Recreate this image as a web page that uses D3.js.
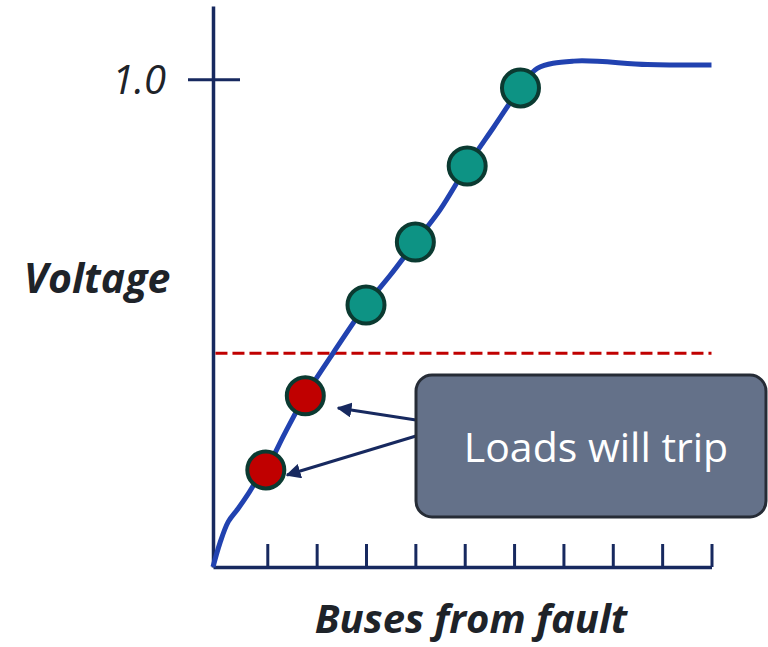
<!DOCTYPE html>
<html>
<head>
<meta charset="utf-8">
<script src="https://cdn.jsdelivr.net/npm/d3@7"></script>
<style>
  html, body { margin: 0; padding: 0; background: #fff; }
  svg text { font-family: "Open Sans", "Noto Sans", sans-serif; }
</style>
</head>
<body>
<svg id="chart" width="768" height="647"></svg>
<script>
// voltage profile (x = buses from fault, y = p.u.)
let curveX = [-0.1, 0.04, 0.21, 0.41, 0.62, 0.75, 0.97, 1.36, 1.77, 2.33, 3.0, 3.49, 4.0, 4.5, 5.05, 5.59, 6.13, 6.47, 7.21, 8.7, 10.0]
let curveY = [0, 0.049, 0.093, 0.12, 0.151, 0.172, 0.199, 0.275, 0.351, 0.438, 0.537, 0.598, 0.666, 0.732, 0.822, 0.902, 0.982, 1.022, 1.037, 1.03, 1.029]

let busX = [0.97, 1.77, 3.0, 4.0, 5.05, 6.13]
let busY = [0.199, 0.351, 0.537, 0.666, 0.822, 0.982]
let busTrips = [true, true, false, false, false, false]

let xTicks = [1, 2, 3, 4, 5, 6, 7, 8, 9, 10]
let yTicks = [1.0]
let tripLevel = 0.438

let svg = d3.select('#chart')
let navy = '#17295f'

let x = d3.scaleLinear().domain([-0.1, 10]).range([213, 711.5])
let y = d3.scaleLinear().domain([0, 1.15]).range([567, 6])

// axes
let xAxis = svg.append('g')
    .attr('transform', 'translate(0,' + y(0) + ')')
    .call(d3.axisBottom(x).tickValues(xTicks).tickSize(-23).tickSizeOuter(0).tickFormat(''))
xAxis.select('.domain').attr('stroke', navy).attr('stroke-width', 3.5)
xAxis.selectAll('.tick line').attr('stroke', navy).attr('stroke-width', 3)

let yAxis = svg.append('g')
    .attr('transform', 'translate(' + x(-0.1) + ',0)')
    .call(d3.axisLeft(y).tickValues(yTicks).tickSizeOuter(0).tickFormat(d3.format('.1f')))
yAxis.select('.domain').attr('stroke', navy).attr('stroke-width', 3.5)
yAxis.selectAll('.tick line').attr('stroke', navy).attr('stroke-width', 3)
    .attr('x1', 27).attr('x2', -25)
yAxis.selectAll('.tick text')
    .attr('x', -47).attr('dy', '0.35em')
    .attr('fill', '#1e2329')
    .style('font-size', '40px').style('font-style', 'italic')

// trip threshold
svg.append('line')
    .attr('x1', x(-0.05)).attr('x2', x(10))
    .attr('y1', y(tripLevel)).attr('y2', y(tripLevel))
    .attr('stroke', '#c00000').attr('stroke-width', 3)
    .attr('stroke-dasharray', '12,5')

// voltage curve
let line = d3.line()
    .x((d, i) => x(curveX[i]))
    .y((d, i) => y(curveY[i]))
    .curve(d3.curveCatmullRom.alpha(0.5))
svg.append('path')
    .datum(curveX)
    .attr('d', line)
    .attr('fill', 'none')
    .attr('stroke', '#2142b0')
    .attr('stroke-width', 5)
    .attr('stroke-linejoin', 'round')

// buses
svg.selectAll('circle.bus')
    .data(busX)
    .enter().append('circle')
    .attr('class', 'bus')
    .attr('cx', d => x(d))
    .attr('cy', (d, i) => y(busY[i]))
    .attr('r', 18.5)
    .attr('fill', (d, i) => busTrips[i] ? '#c00000' : '#0d9384')
    .attr('stroke', '#0b3a31')
    .attr('stroke-width', 4)

// callout
let defs = svg.append('defs')
defs.append('marker')
    .attr('id', 'arrow')
    .attr('viewBox', '0 0 10 10')
    .attr('refX', 9).attr('refY', 5)
    .attr('markerWidth', 5).attr('markerHeight', 5)
    .attr('markerUnits', 'strokeWidth')
    .attr('orient', 'auto')
    .append('path').attr('d', 'M0,0 L10,5 L0,10 z').attr('fill', navy)

let arrowFrom = [[416, 420], [416, 436]]
let arrowTo = [[338, 408], [287, 475]]
svg.selectAll('line.arrow')
    .data(arrowFrom)
    .enter().append('line')
    .attr('class', 'arrow')
    .attr('x1', d => d[0]).attr('y1', d => d[1])
    .attr('x2', (d, i) => arrowTo[i][0]).attr('y2', (d, i) => arrowTo[i][1])
    .attr('stroke', navy).attr('stroke-width', 3)
    .attr('marker-end', 'url(#arrow)')

svg.append('rect')
    .attr('x', 416).attr('y', 375)
    .attr('width', 350).attr('height', 142)
    .attr('rx', 16)
    .attr('fill', '#647189')
    .attr('stroke', '#262c36').attr('stroke-width', 3)
svg.append('text')
    .attr('x', 596).attr('y', 462)
    .attr('text-anchor', 'middle')
    .attr('fill', '#fff')
    .style('font-size', '41px')
    .text('Loads will trip')

// axis titles
svg.append('text')
    .attr('x', 97).attr('y', 293)
    .attr('text-anchor', 'middle')
    .attr('fill', '#1e2329')
    .style('font-size', '41px').style('font-weight', 'bold').style('font-style', 'italic')
    .text('Voltage')
svg.append('text')
    .attr('x', 471).attr('y', 633)
    .attr('text-anchor', 'middle')
    .attr('fill', '#1e2329')
    .style('font-size', '40px').style('font-weight', 'bold').style('font-style', 'italic')
    .text('Buses from fault')
</script>
</body>
</html>
